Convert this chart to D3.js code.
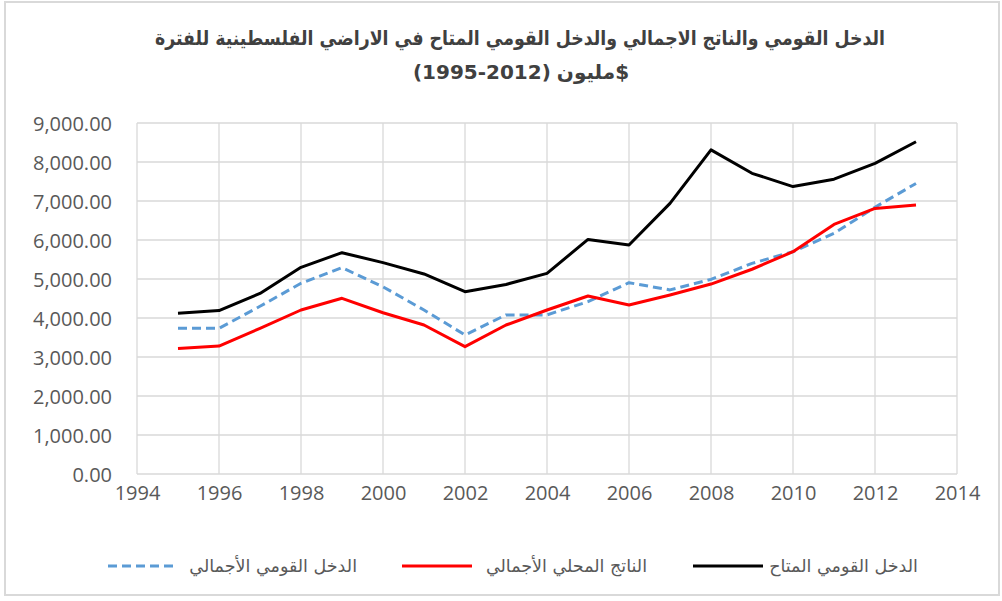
<!DOCTYPE html>
<html>
<head>
<meta charset="utf-8">
<script src="https://cdn.jsdelivr.net/npm/d3@7"></script>
<style>
  html, body { margin: 0; padding: 0; background: #fff; }
  svg { display: block; }
</style>
</head>
<body>
<svg id="chart" width="1002" height="601"></svg>
<script>
// ---- data ----
const years = [1995,1996,1997,1998,1999,2000,2001,2002,2003,2004,2005,2006,2007,2008,2009,2010,2011,2012,2013];
const gniTotal = [3735,3735,4300,4890,5290,4800,4205,3565,4080,4080,4420,4905,4720,4990,5400,5700,6170,6840,7450];
const gdpTotal = [3215,3280,3735,4205,4505,4135,3820,3265,3820,4205,4565,4333,4590,4870,5250,5700,6400,6810,6900];
const gniDisposable = [4120,4190,4630,5300,5675,5420,5130,4675,4860,5145,6015,5870,6940,8310,7710,7370,7560,7965,8520];
const xTicks = [1994,1996,1998,2000,2002,2004,2006,2008,2010,2012,2014];
const yTicks = [0,1000,2000,3000,4000,5000,6000,7000,8000,9000];
const seriesNames = ["الدخل القومي الأجمالي", "الناتج المحلي الأجمالي", "الدخل القومي المتاح"];
const titleLine1 = "الدخل القومي والناتج الاجمالي والدخل القومي المتاح في الاراضي الفلسطينية للفترة";
// second title line, pieces in visual order left -> right
const titleLine2Parts = ["(1995-2012)", "مليون", "$"];

const series = [
  {name: seriesNames[0], values: gniTotal, color: "#5b9bd5", dash: "9,5"},
  {name: seriesNames[1], values: gdpTotal, color: "#ff0000", dash: null},
  {name: seriesNames[2], values: gniDisposable, color: "#000000", dash: null}
];

const svg = d3.select("#chart");
const W = 1002, H = 601;

// outer border
svg.append("rect").attr("x", 5).attr("y", 2).attr("width", W - 8).attr("height", H - 8)
  .attr("fill", "#fff").attr("stroke", "#d9d9d9").attr("stroke-width", 2);

const plot = {left: 137, right: 957, top: 123, bottom: 474};
const x = d3.scaleLinear().domain([1994, 2014]).range([plot.left, plot.right]);
const y = d3.scaleLinear().domain([0, 9000]).range([plot.bottom, plot.top]);

// gridlines
const g = svg.append("g");
g.selectAll("line.h").data(yTicks).join("line").attr("class", "h")
  .attr("x1", plot.left).attr("x2", plot.right)
  .attr("y1", d => y(d)).attr("y2", d => y(d))
  .attr("stroke", "#d9d9d9").attr("stroke-width", 1.3);
g.selectAll("line.v").data(xTicks).join("line").attr("class", "v")
  .attr("y1", plot.top).attr("y2", plot.bottom)
  .attr("x1", d => x(d)).attr("x2", d => x(d))
  .attr("stroke", "#d9d9d9").attr("stroke-width", 1.3);

// axes (labels only)
const yAxis = d3.axisLeft(y).tickValues(yTicks).tickSize(0).tickPadding(0)
  .tickFormat(d3.format(",.2f"));
const ya = svg.append("g").attr("transform", `translate(112,0)`).call(yAxis);
ya.select(".domain").remove();
ya.selectAll("text").attr("font-family", "'Open Sans', sans-serif").attr("font-size", 20)
  .attr("fill", "#595959").attr("dy", "0.35em");

const xAxis = d3.axisBottom(x).tickValues(xTicks).tickSize(0).tickPadding(0)
  .tickFormat(d3.format("d"));
const xa = svg.append("g").attr("transform", `translate(0,${plot.bottom + 24})`).call(xAxis);
xa.select(".domain").remove();
xa.selectAll("text").attr("font-family", "'Open Sans', sans-serif").attr("font-size", 20)
  .attr("fill", "#595959").attr("dy", "0.1em");

// lines
const line = d3.line().x((d, i) => x(years[i])).y(d => y(d));
svg.append("g").selectAll("path").data(series).join("path")
  .attr("d", d => line(d.values))
  .attr("fill", "none")
  .attr("stroke", d => d.color)
  .attr("stroke-width", 3)
  .attr("stroke-dasharray", d => d.dash)
  .attr("stroke-linejoin", "round");

// title
const tg = svg.append("g").attr("font-family", "'DejaVu Sans', sans-serif")
  .attr("font-weight", "bold").attr("fill", "#404040");
tg.append("text").attr("x", 520).attr("y", 45).attr("font-size", 20)
  .attr("text-anchor", "middle")
  .attr("textLength", 730).attr("lengthAdjust", "spacingAndGlyphs")
  .text(titleLine1);

// line 2 laid out piece by piece (avoids bidi reordering)
const gap = 6;
const parts = titleLine2Parts.map((t, i) => tg.append("text").attr("y", 79)
  .attr("font-size", 20).attr("text-anchor", "start").text(t));
const widths = parts.map(p => p.node().getComputedTextLength());
const total = widths[0] + gap + widths[1] + widths[2];
let cx = 521 - total / 2;
parts[0].attr("x", cx); cx += widths[0] + gap;
parts[1].attr("x", cx); cx += widths[1];
parts[2].attr("x", cx);

// legend
const legendItems = [
  {s: series[0], lx: 108, tx: 357},
  {s: series[1], lx: 402, tx: 647},
  {s: series[2], lx: 693, tx: 918}
];
const lg = svg.append("g");
legendItems.forEach(it => {
  lg.append("line").attr("x1", it.lx).attr("x2", it.lx + 70).attr("y1", 566).attr("y2", 566)
    .attr("stroke", it.s.color).attr("stroke-width", 3).attr("stroke-dasharray", it.s.dash);
  lg.append("text").attr("x", it.tx).attr("y", 566).attr("dy", "0.35em")
    .attr("text-anchor", "end").attr("font-family", "'DejaVu Sans', sans-serif")
    .attr("font-size", 17.5).attr("fill", "#595959").text(it.s.name);
});
</script>
</body>
</html>
